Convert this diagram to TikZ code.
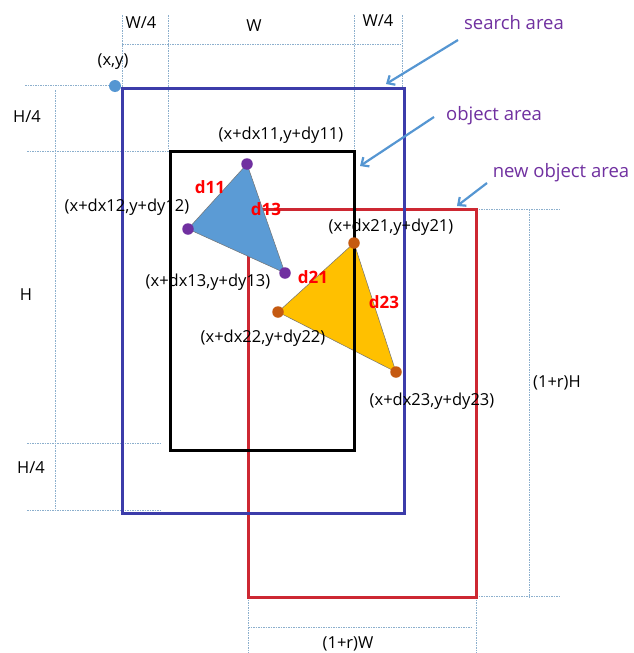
\documentclass[tikz,border=0pt]{standalone}
\usepackage{fontspec}
\setmainfont{Open Sans}
\usetikzlibrary{arrows.meta}
\definecolor{guide}{RGB}{140,175,205}
\definecolor{searchc}{RGB}{60,60,170}
\definecolor{newc}{RGB}{205,40,50}
\definecolor{purp}{RGB}{112,48,160}
\definecolor{dred}{RGB}{255,0,0}
\definecolor{arrowc}{RGB}{85,150,210}
\definecolor{tri1}{RGB}{91,155,213}
\definecolor{tri2}{RGB}{255,192,0}
\definecolor{dot1}{RGB}{112,48,160}
\definecolor{dot2}{RGB}{197,90,17}
\begin{document}
\begin{tikzpicture}[x=1pt,y=-1pt,
  guideline/.style={draw=guide, line width=0.6pt, dash pattern=on 1.5pt off 1pt},
  lbl/.style={font=\fontsize{16.5}{18}\selectfont, inner sep=0pt},
  dlbl/.style={text=dred, font=\fontsize{17}{19}\selectfont\bfseries, inner sep=0pt},
  arealbl/.style={text=purp, font=\fontsize{18.5}{20}\selectfont, inner sep=0pt},
  pointer/.style={draw=arrowc, line width=2.2pt, -{Straight Barb[length=6pt,width=11pt]}},
  rectline/.style={line width=3pt},
  pdot/.style={circle, inner sep=0pt, minimum size=11.5pt},
  trioutline/.style={draw=black!55, line width=0.5pt}]
\useasboundingbox (0,0) rectangle (634,653);
\fill[white] (0,0) rectangle (634,653);

% guide lines
\draw[guideline] (122,15) -- (122,87);
\draw[guideline] (168,15) -- (168,150);
\draw[guideline] (354,15) -- (354,150);
\draw[guideline] (402,15) -- (402,87);
\draw[guideline] (122,44) -- (402,44);
\draw[guideline] (25,85) -- (115,85);
\draw[guideline] (55,90) -- (55,510);
\draw[guideline] (27,151) -- (170,151);
\draw[guideline] (27,443) -- (160,443);
\draw[guideline] (27,510) -- (160,510);
\draw[guideline] (476,209) -- (560,209);
\draw[guideline] (529,209) -- (529,597);
\draw[guideline] (476,596) -- (560,596);
\draw[guideline] (248,597) -- (248,653);
\draw[guideline] (476,597) -- (476,653);
\draw[guideline] (248,627) -- (472,627);

% rectangles
\coordinate (nTL) at (248,209); \coordinate (nBR) at (476,597);
\coordinate (sTL) at (122,88); \coordinate (sBR) at (404,513);
\coordinate (oTL) at (170,151); \coordinate (oBR) at (354,450);
\draw[rectline, newc] (nTL) rectangle (nBR);
\draw[rectline, searchc] (sTL) rectangle (sBR);

% triangles
\coordinate (a1) at (247,164);
\coordinate (a2) at (188,229);
\coordinate (a3) at (285,273);
\coordinate (b1) at (354,243);
\coordinate (b2) at (278,312);
\coordinate (b3) at (396,372);
\fill[tri1] (a1) -- (a2) -- (a3) -- cycle;
\draw[trioutline] (a1) -- (a2) -- (a3) -- cycle;
\fill[tri2] (b1) -- (b2) -- (b3) -- cycle;
\draw[trioutline] (b1) -- (b2) -- (b3) -- cycle;

\draw[rectline, black] (oTL) rectangle (oBR);

\node[pdot, fill=dot1] (d1) at (a1) {};
\node[pdot, fill=dot1] (d2) at (a2) {};
\node[pdot, fill=dot1] (d3) at (a3) {};
\node[pdot, fill=dot2] (e1) at (b1) {};
\node[pdot, fill=dot2] (e2) at (b2) {};
\node[pdot, fill=dot2] (e3) at (b3) {};

% origin dot
\node[pdot, minimum size=12pt, fill=arrowc] (org) at (115,86) {};
\node[lbl] (orglbl) at (113,62) {(x,y)};

% dimension labels
\node[lbl] (w4a) at (141,23) {W/4};
\node[lbl] (w) at (254,26) {W};
\node[lbl] (w4b) at (378,21) {W/4};
\node[lbl] (h4a) at (27,117) {H/4};
\node[lbl] (h) at (26,295) {H};
\node[lbl] (h4b) at (31,468) {H/4};
\node[lbl] (rh) at (557,383) {(1+r)H};
\node[lbl] (rw) at (348,644) {(1+r)W};

% point labels
\node[lbl] (l11) at (281,135) {(x+dx11,y+dy11)};
\node[lbl] (l12) at (127,207) {(x+dx12,y+dy12)};
\node[lbl] (l13) at (208,282) {(x+dx13,y+dy13)};
\node[lbl] (l21) at (391,227) {(x+dx21,y+dy21)};
\node[lbl] (l22) at (263,338) {(x+dx22,y+dy22)};
\node[lbl] (l23) at (432,401) {(x+dx23,y+dy23)};

% distance labels
\node[dlbl] (t11) at (210,187) {d11};
\node[dlbl] (t13) at (266,209) {d13};
\node[dlbl] (t21) at (313,277) {d21};
\node[dlbl] (t23) at (384,302) {d23};

% area labels and pointers
\node[arealbl] (sa) at (514,23) {search area};
\node[arealbl] (oa) at (494,116) {object area};
\node[arealbl] (na) at (561,173) {new object area};
\coordinate (saS) at (458,40); \coordinate (saT) at (386,84);
\coordinate (oaS) at (434,117); \coordinate (oaT) at (360,166);
\coordinate (naS) at (487,183); \coordinate (naT) at (457,206);
\draw[pointer] (saS) -- (saT);
\draw[pointer] (oaS) -- (oaT);
\draw[pointer] (naS) -- (naT);
\end{tikzpicture}
\end{document}
